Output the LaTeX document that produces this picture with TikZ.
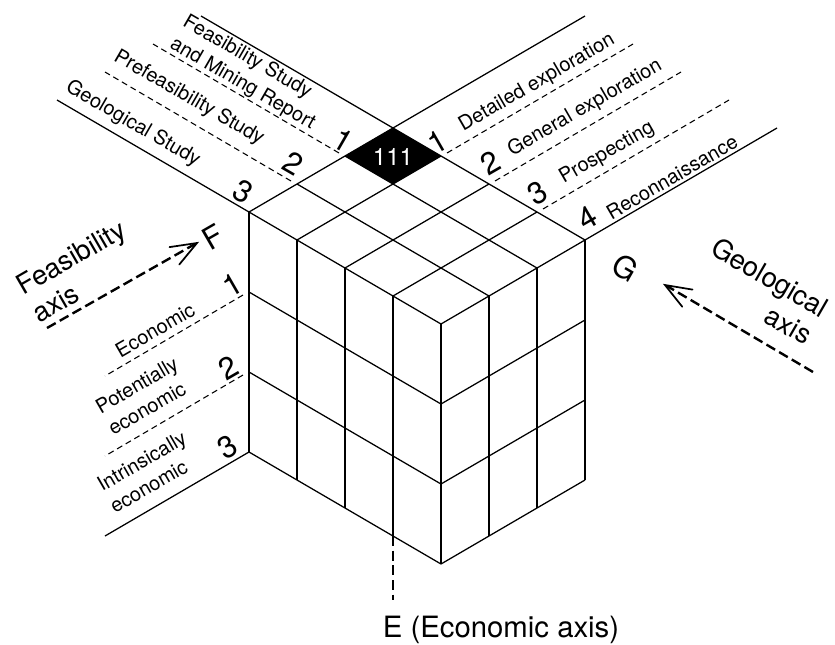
\documentclass[tikz,border=0pt]{standalone}
\usepackage{fontspec}
\setmainfont{TeX Gyre Heros}

\begin{document}
\begin{tikzpicture}[x=0.75pt,y=0.75pt,yscale=-1,xscale=1,
    cubeline/.style={line width=0.95pt},
    sepdash/.style={line width=0.8pt,dash pattern={on 4.5pt off 3pt}},
    axisdash/.style={line width=1.8pt,dash pattern={on 7.5pt off 3.5pt}},
    barb/.style={line width=1.3pt,line cap=round},
    lbl/.style={font=\fontsize{15}{19}\selectfont,inner sep=0pt},
    num/.style={font=\fontsize{23}{25}\selectfont,inner sep=0pt},
    axlbl/.style={font=\fontsize{20.5}{24}\selectfont,inner sep=0pt}]
    \useasboundingbox (0,0) rectangle (835,644);

    %black cell 111
    \fill (393,128) -- (441,156) -- (393,184) -- (345,156) -- cycle ;
    \node [lbl,font=\fontsize{18}{20}\selectfont,text=white] (c111) at (393,157) {111};

    %top face
    \draw [cubeline] (393,128) -- (585,240) ;
    \draw [cubeline] (345,156) -- (537,268) ;
    \draw [cubeline] (297,184) -- (489,296) ;
    \draw [cubeline] (249,212) -- (441,324) ;
    \draw [cubeline] (393,128) -- (249,212) ;
    \draw [cubeline] (441,156) -- (297,240) ;
    \draw [cubeline] (489,184) -- (345,268) ;
    \draw [cubeline] (537,212) -- (393,296) ;
    \draw [cubeline] (585,240) -- (441,324) ;

    %left face
    \draw [cubeline] (249,212) -- (249,452) ;
    \draw [cubeline] (297,240) -- (297,480) ;
    \draw [cubeline] (345,268) -- (345,508) ;
    \draw [cubeline] (393,296) -- (393,536) ;
    \draw [cubeline] (441,324) -- (441,564) ;
    \draw [cubeline] (249,292) -- (441,404) ;
    \draw [cubeline] (249,372) -- (441,484) ;
    \draw [cubeline] (249,452) -- (441,564) ;

    %right face
    \draw [cubeline] (585,240) -- (585,480) ;
    \draw [cubeline] (537,268) -- (537,508) ;
    \draw [cubeline] (489,296) -- (489,536) ;
    \draw [cubeline] (441,404) -- (585,320) ;
    \draw [cubeline] (441,484) -- (585,400) ;
    \draw [cubeline] (441,564) -- (585,480) ;

    %feasibility scale (top left)
    \draw [cubeline] (393,128) -- (201,16) ;
    \draw [sepdash] (339,153) -- (153,44) ;
    \draw [sepdash] (291,181) -- (105,72) ;
    \draw [cubeline] (249,212) -- (57,100) ;
    \node [num,rotate=-30] (f1) at (343,140) {1};
    \node [num,rotate=-30] (f2) at (293,163) {2};
    \node [num,rotate=-30] (f3) at (243,192) {3};
    \node [lbl,rotate=-30,align=left] (fsmr) at (249,73) {Feasibility Study\\and Mining Report};
    \node [lbl,rotate=-30] (pfs) at (189,98) {Prefeasibility Study};
    \node [lbl,rotate=-30] (gs) at (133,124) {Geological Study};

    %geological scale (top right)
    \draw [cubeline] (393,128) -- (585,16) ;
    \draw [sepdash] (447,153) -- (633,44) ;
    \draw [sepdash] (495,181) -- (681,72) ;
    \draw [sepdash] (543,209) -- (729,100) ;
    \draw [cubeline] (585,240) -- (777,128) ;
    \node [num,rotate=30] (g1) at (437,142) {1};
    \node [num,rotate=30] (g2) at (490,163) {2};
    \node [num,rotate=30] (g3) at (538,193) {3};
    \node [num,rotate=30] (g4) at (587,218) {4};
    \node [lbl,rotate=30] (dex) at (537,83) {Detailed exploration};
    \node [lbl,rotate=30] (gex) at (585,108) {General exploration};
    \node [lbl,rotate=30] (pro) at (607,153) {Prospecting};
    \node [lbl,rotate=30] (rec) at (672,177) {Reconnaissance};

    %economic scale (left)
    \draw [sepdash] (243,295) -- (105,376) ;
    \draw [sepdash] (243,375) -- (105,456) ;
    \draw [cubeline] (249,452) -- (105,536) ;
    \node [num,rotate=30] (e1) at (232,285) {1};
    \node [num,rotate=30] (e2) at (228,368) {2};
    \node [num,rotate=30] (e3) at (228,447) {3};
    \node [lbl,rotate=30] (eco) at (155,330) {Economic};
    \node [lbl,rotate=30,align=left] (peco) at (143,396) {Potentially\\economic};
    \node [lbl,rotate=30,align=left] (ieco) at (148,472) {Intrinsically\\economic};

    %feasibility axis
    \draw [axisdash] (47,328) -- (195,244) ;
    \draw [barb] (169.5,247.1) -- (197,243) -- (179.3,264.5) ;
    \node [num,rotate=30] (F) at (213,237) {F};
    \node [axlbl,rotate=30,align=left] (faxis) at (79,271) {Feasibility\\axis};
    %geological axis
    \draw [axisdash] (813,372) -- (667,286) ;
    \draw [barb] (692.5,289.6) -- (665,285) -- (682.3,306.8) ;
    \node [num,rotate=-30] (G) at (625,268) {G};
    \node [axlbl,rotate=-30,align=right] (gaxis) at (762,291) {Geological\\axis};
    %economic axis
    \draw [axisdash] (393,536) -- (393,600) ;
    \node [lbl,font=\fontsize{22}{24}\selectfont] (E) at (501,630) {E (Economic axis)};
\end{tikzpicture}
\end{document}
